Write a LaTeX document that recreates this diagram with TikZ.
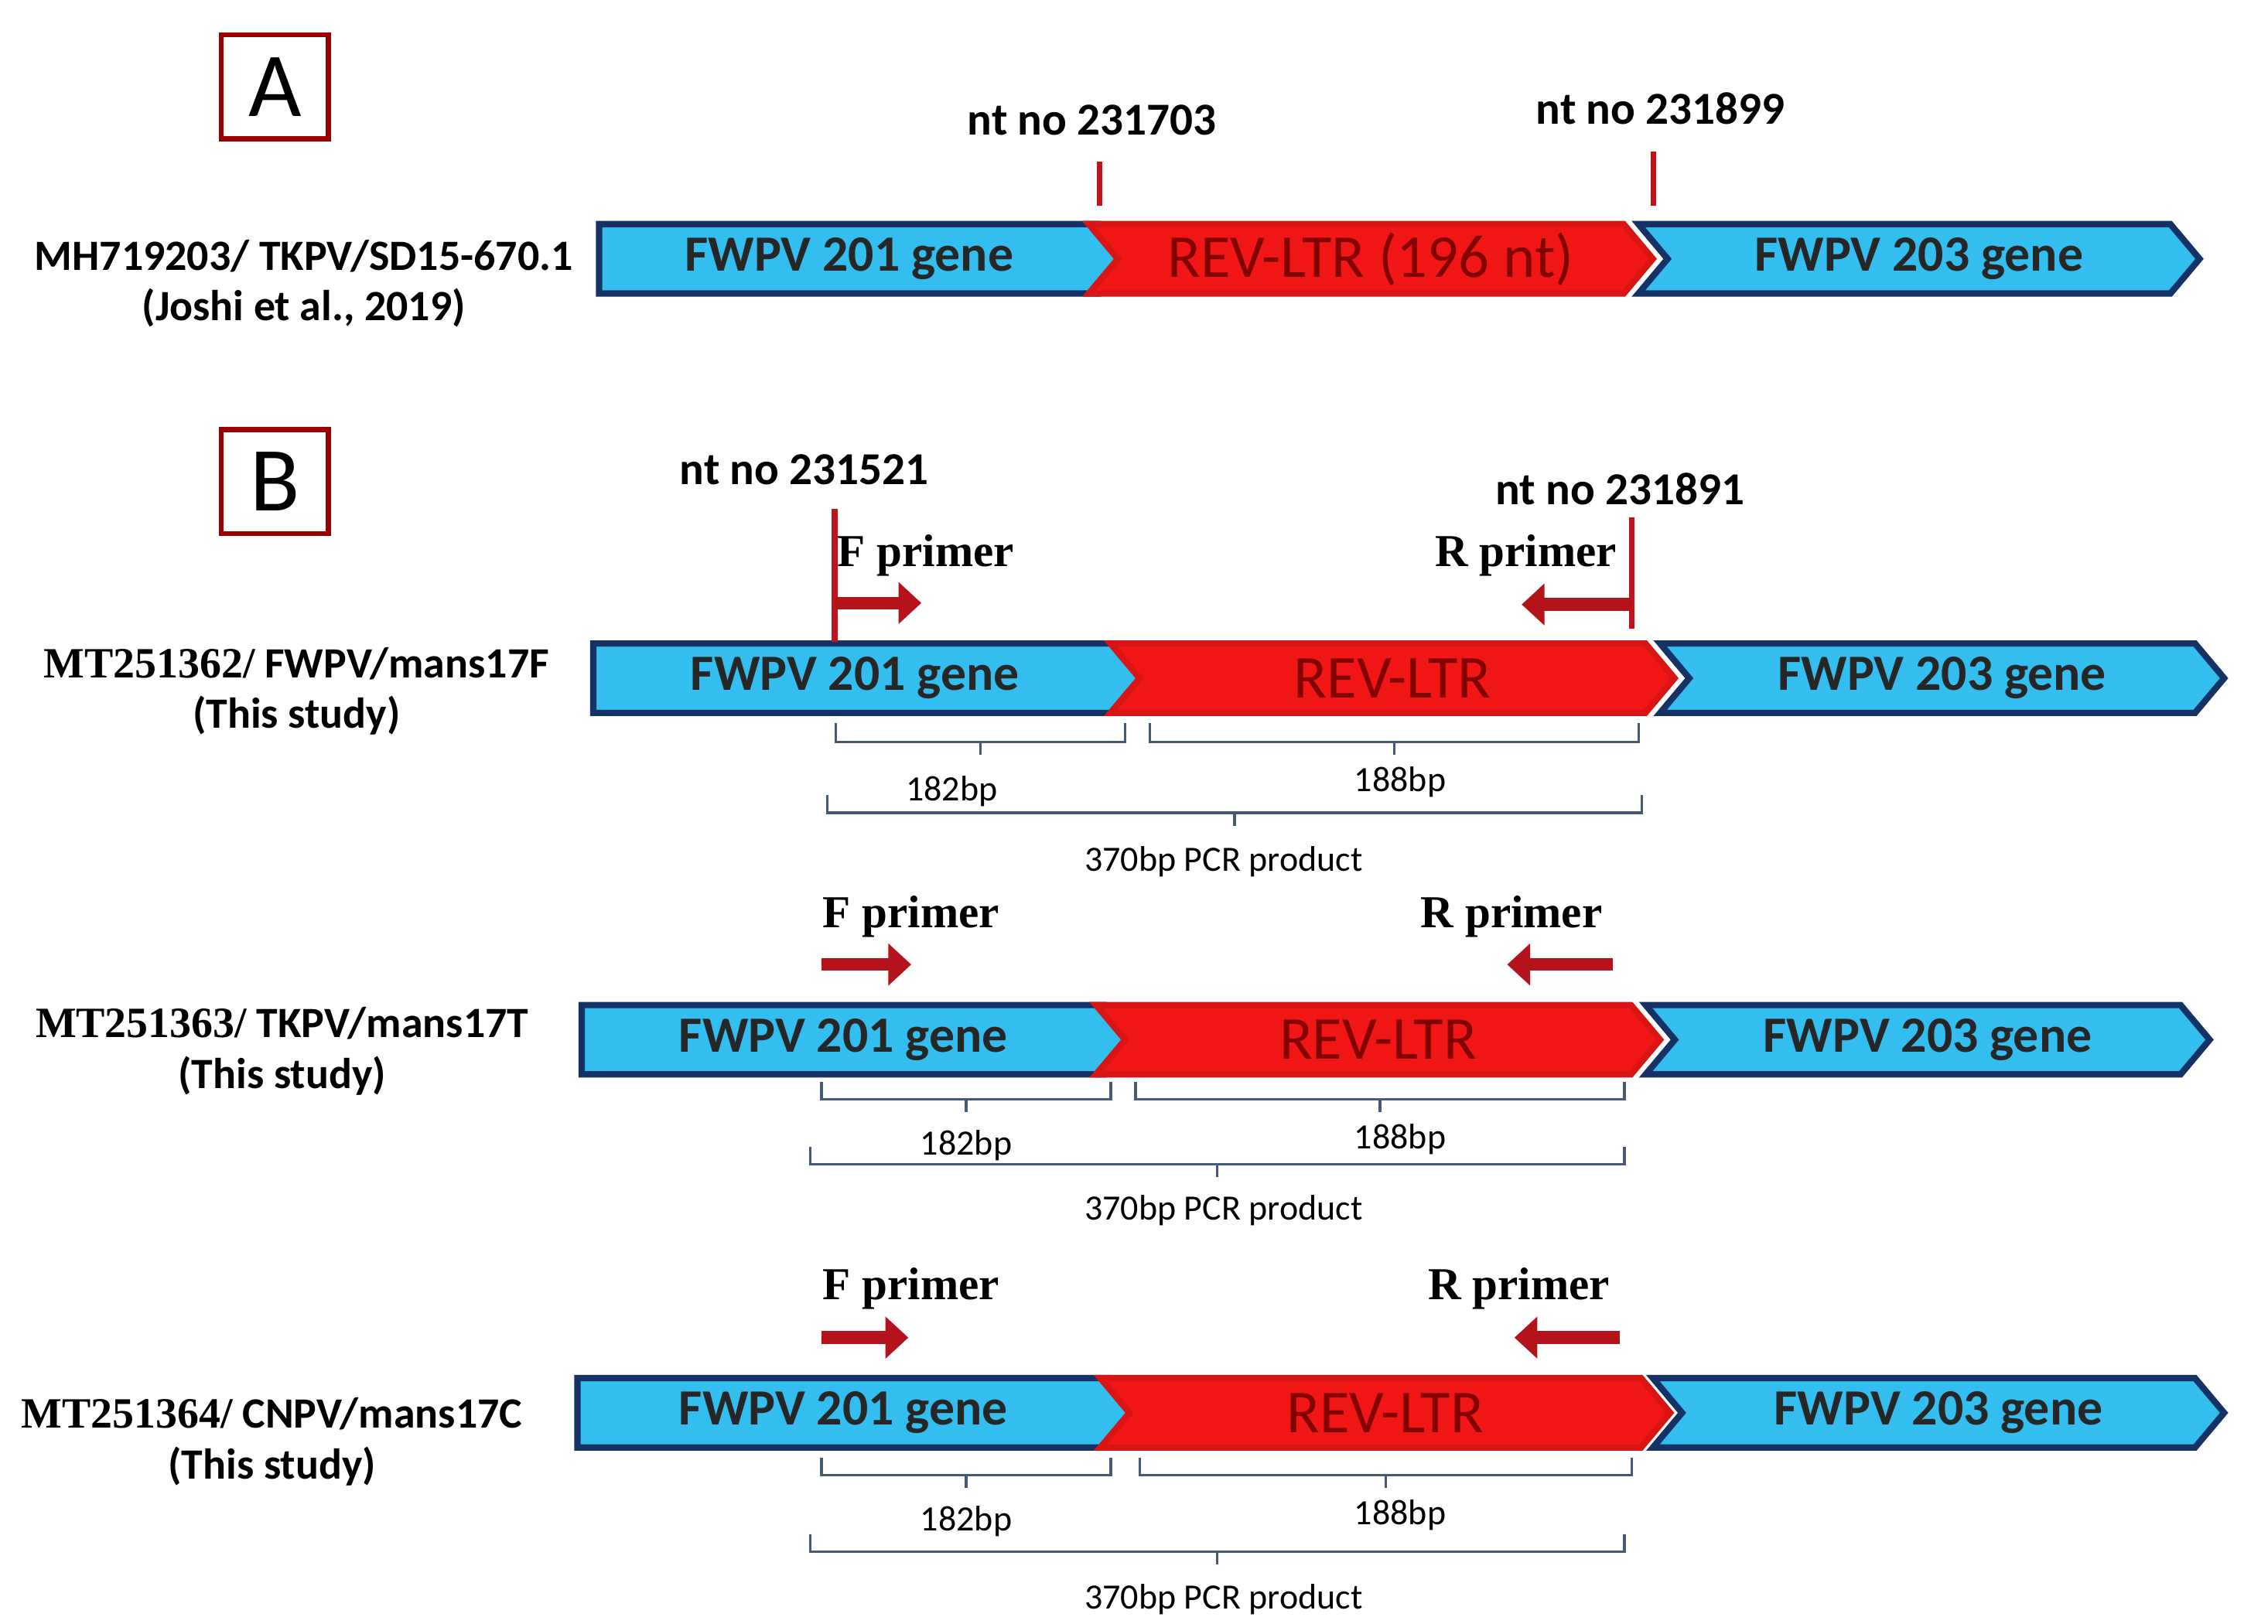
\documentclass[tikz,border=0pt]{standalone}
\usepackage{fontspec}
\setmainfont{Carlito}
\newfontfamily\serifb{Liberation Serif}
\usetikzlibrary{shapes.symbols,arrows.meta}
\definecolor{genebl}{RGB}{52,190,240}
\definecolor{genebd}{RGB}{20,50,100}
\definecolor{ltrred}{RGB}{240,22,22}
\definecolor{ltrtxt}{RGB}{130,0,0}
\definecolor{ntmark}{RGB}{190,20,30}
\definecolor{brkc}{RGB}{70,90,120}
\tikzset{
    gene/.style={
           signal, signal to=east, signal pointer angle=100,
           draw=genebd, line width=2.5pt, fill=genebl,
           minimum height=0.96cm, inner sep=0pt, anchor=west,
           font=\fontsize{20}{24}\selectfont\bfseries, text=black!85,
           },
    ltr/.style={gene, signal from=west, fill=ltrred, draw=ltrred!90!black,
           text=ltrtxt, font=\fontsize{24}{28}\selectfont},
    gene2/.style={gene, signal from=west},
    ntline/.style={draw=ntmark, line width=2.2pt},
    primer/.style={draw=ntmark!95!black, line width=5pt, -{Triangle[length=9pt,width=16pt]}},
    ptxt/.style={font=\serifb\fontsize{18}{20}\selectfont\bfseries},
    nt/.style={font=\fontsize{18}{20}\selectfont\bfseries},
    brk/.style={draw=brkc, line width=1pt},
    bp/.style={font=\fontsize{14}{16}\selectfont},
    acc/.style={font=\fontsize{17}{20}\selectfont\bfseries, align=center},
    panel/.style={draw=ltrtxt!80!red, line width=2pt, minimum width=1.48cm,
           minimum height=1.44cm, font=\fontsize{36}{40}\selectfont},
}
% bracket: x1, x2, top y, bottom y, name
\newcommand{\brkt}[5]{%
  \draw[brk] (#1,#3) |- (#2,#4) -- (#2,#3);
  \coordinate (#5) at ({(#1+#2)/2},#4);
  \draw[brk] (#5) -- ++(0,9);}

\begin{document}
\begin{tikzpicture}[x=0.02cm,y=-0.02cm]
      \useasboundingbox (0,0) rectangle (1568,1123);

      % PANEL A
      \node[panel] (PA) at (190,60) {A};
      \node[acc] (ACC_A) at (210,196) {MH719203/ TKPV/SD15-670.1\\(Joshi et al., 2019)};
      \node[gene, minimum width=7.32cm] (A201) at (412,179) {FWPV 201 gene};
      \node[ltr, minimum width=7.8cm] (ALTR) at (770,179) {REV-LTR (196 nt)};
      \node[gene2, minimum width=7.76cm] (A203) at (1150,179) {FWPV 203 gene};
      \node[nt] (NT1) at (755,83) {nt no 231703};
      \node[nt] (NT2) at (1148,75) {nt no 231899};
      \coordinate (M1) at (760,142);
      \coordinate (M2) at (1143,142);
      \draw[ntline] (M1) -- ++(0,-30);
      \draw[ntline] (M2) -- ++(0,-37);

      % PANEL B, ROW 1
      \node[panel] (PB) at (190,333) {B};
      \node[acc] (ACC_F) at (205,478) {{\serifb MT251362/} FWPV/mans17F\\(This study)};
      \node[gene, minimum width=7.64cm] (F201) at (408,469) {FWPV 201 gene};
      \node[ltr, minimum width=7.8cm] (FLTR) at (785,469) {REV-LTR};
      \node[gene2, minimum width=7.8cm] (F203) at (1165,469) {FWPV 203 gene};
      \node[nt] (NT3) at (556,325) {nt no 231521};
      \node[nt] (NT4) at (1120,338) {nt no 231891};
      \coordinate (FM) at (577,352);
      \coordinate (RM) at (1128,358);
      \draw[ntline] (FM) -- ++(0,92);
      \draw[ntline] (RM) -- ++(0,77);
      \draw[primer] (577,417) -- (637,417);
      \draw[primer] (1128,418) -- (1052,418);
      \node[ptxt] (FP1) at (640,384) {F primer};
      \node[ptxt] (RP1) at (1055,384) {R primer};
      \brkt{578}{778}{500}{513}{B11}
      \brkt{795}{1133}{500}{513}{B12}
      \brkt{572}{1135}{550}{562}{B13}
      \node[bp] at (658,547) {182bp};
      \node[bp] at (968,541) {188bp};
      \node[bp] at (846,596) {370bp PCR product};

      % PANEL B, ROW 2
      \node[acc] (ACC_T) at (195,727) {{\serifb MT251363/} TKPV/mans17T\\(This study)};
      \node[gene, minimum width=7.64cm] (T201) at (400,719) {FWPV 201 gene};
      \node[ltr, minimum width=7.8cm] (TLTR) at (775,719) {REV-LTR};
      \node[gene2, minimum width=7.8cm] (T203) at (1155,719) {FWPV 203 gene};
      \draw[primer] (568,667) -- (630,667);
      \draw[primer] (1115,667) -- (1042,667);
      \node[ptxt] (FP2) at (630,634) {F primer};
      \node[ptxt] (RP2) at (1045,634) {R primer};
      \brkt{568}{768}{748}{760}{B21}
      \brkt{785}{1123}{748}{760}{B22}
      \brkt{560}{1123}{793}{805}{B23}
      \node[bp] at (668,792) {182bp};
      \node[bp] at (968,788) {188bp};
      \node[bp] at (846,837) {370bp PCR product};

      % PANEL B, ROW 3
      \node[acc] (ACC_C) at (188,997) {{\serifb MT251364/} CNPV/mans17C\\(This study)};
      \node[gene, minimum width=7.76cm] (C201) at (397,977) {FWPV 201 gene};
      \node[ltr, minimum width=7.88cm] (CLTR) at (778,977) {REV-LTR};
      \node[gene2, minimum width=7.9cm] (C203) at (1160,977) {FWPV 203 gene};
      \draw[primer] (568,925) -- (628,925);
      \draw[primer] (1120,925) -- (1047,925);
      \node[ptxt] (FP3) at (630,891) {F primer};
      \node[ptxt] (RP3) at (1050,891) {R primer};
      \brkt{568}{768}{1008}{1020}{B31}
      \brkt{788}{1128}{1008}{1020}{B32}
      \brkt{560}{1123}{1061}{1073}{B33}
      \node[bp] at (668,1052) {182bp};
      \node[bp] at (968,1048) {188bp};
      \node[bp] at (846,1106) {370bp PCR product};
\end{tikzpicture}
\end{document}
